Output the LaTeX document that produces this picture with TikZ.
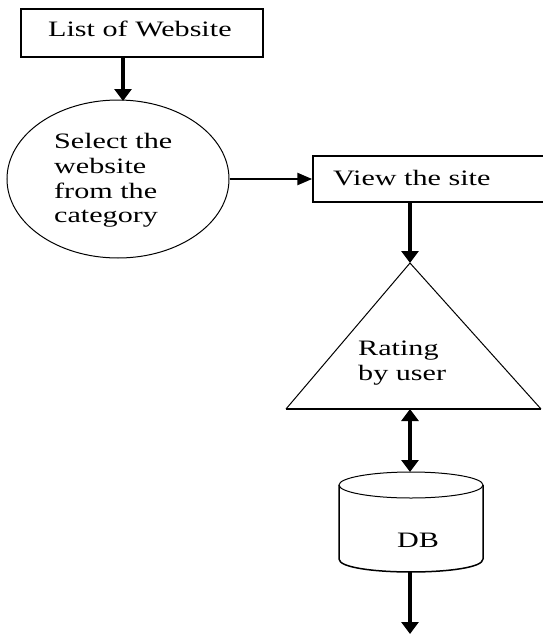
\documentclass[tikz,border=0pt]{standalone}
\usepackage{fontspec}
\setmainfont{Liberation Serif}
\usepackage{graphicx}
\usetikzlibrary{shapes.geometric,arrows.meta}
\newcommand{\sx}[1]{\scalebox{1.37}[1]{#1}}
\begin{document}
\begin{tikzpicture}[x=1pt,y=-1pt,
  txt/.style={font=\fontsize{22}{25}\selectfont, inner sep=0pt, anchor=base west, text=black},
  boxshape/.style={draw, line width=1.5pt, inner sep=0pt},
  thinshape/.style={draw, line width=1pt},
  bigarrow/.style={line width=3.5pt, -{Triangle[length=12pt,width=17pt]}},
  smallarrow/.style={line width=2.5pt, -{Triangle[length=15pt,width=12pt]}},
  dblarrow/.style={line width=3.5pt, {Triangle[length=12pt,width=17pt]}-{Triangle[length=12pt,width=17pt]}}
]
\useasboundingbox (0,0) rectangle (542,635);

% box 1
\node[boxshape, minimum width=242pt, minimum height=48pt] (box1) at (142,33) {};
\node[txt] (t1) at (48,36) {\sx{List of Website}};

% ellipse
\node[ellipse, thinshape, minimum width=222pt, minimum height=158pt, inner sep=0pt] (sel) at (118,179) {};
\coordinate (seltop) at (123,101);
\node[txt] (s1) at (54,148) {\sx{Select the}};
\node[txt] (s2) at (54,173) {\sx{website}};
\node[txt] (s3) at (54,198) {\sx{from the}};
\node[txt] (s4) at (54,222) {\sx{category}};

% box 2
\node[boxshape, minimum width=235pt, minimum height=46pt] (box2) at (430.5,179) {};
\node[txt] (t2) at (333,185) {\sx{View the site}};

% triangle
\coordinate (apex) at (410,263);
\coordinate (bl) at (286,409);
\coordinate (br) at (541,409);
\coordinate (tribase) at (410,409);
\draw[line width=1pt] (bl) -- (apex) -- (br);
\draw[line width=1.5pt] (bl) -- (br);
\node[txt] (r1) at (358,355) {\sx{Rating}};
\node[txt] (r2) at (358,380) {\sx{by user}};

% cylinder
\coordinate (cyltop) at (410,472);
\coordinate (cylbot) at (410,572);
\draw[line width=1pt] (411,485) ellipse [x radius=72, y radius=13];
\draw[line width=1.5pt] (339,485) -- (339,559) .. controls (339,576.3) and (483,576.3) .. (483,559) -- (483,485);
\node[txt] (db) at (397,547) {\sx{DB}};
\coordinate (end) at (410,634);

% connectors
\draw[bigarrow] (box1.south -| seltop) -- (seltop);
\draw[smallarrow] (sel.east) -- (box2.west);
\draw[bigarrow] (box2.south -| apex) -- (apex);
\draw[dblarrow] (tribase) -- (cyltop);
\draw[bigarrow] (cylbot) -- (end);
\end{tikzpicture}
\end{document}
